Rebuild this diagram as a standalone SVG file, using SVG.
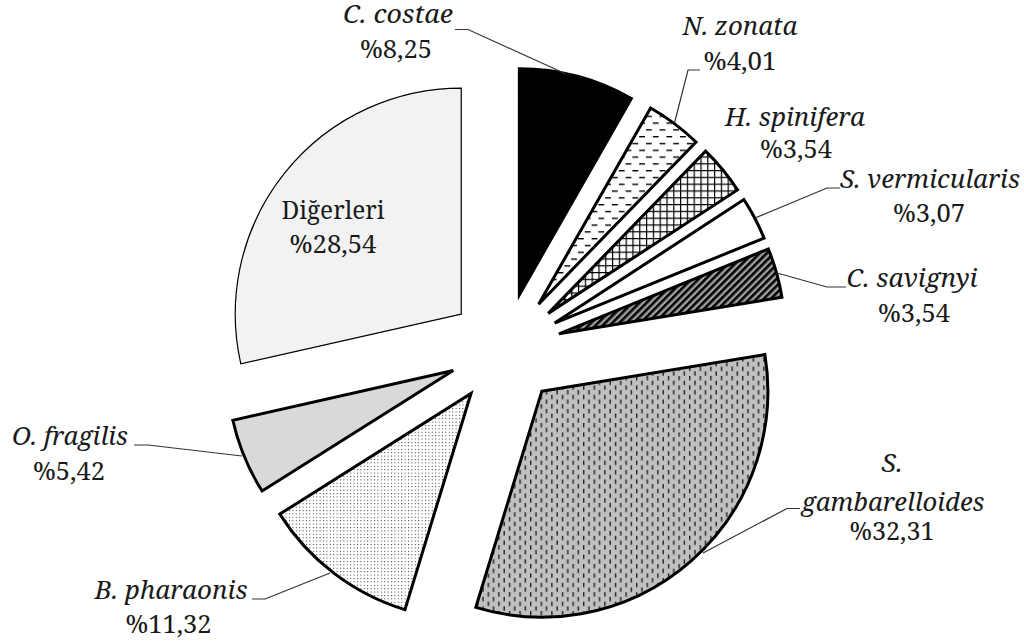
<svg xmlns="http://www.w3.org/2000/svg" width="1024" height="641" viewBox="0 0 1024 641">
<style>
.sl{stroke:#000;stroke-width:3;stroke-linejoin:miter}
.thin{stroke:#000;stroke-width:1.2}
.lbl{font-family:'Noto Serif','DejaVu Serif',serif;font-size:26px;fill:#1a1a1a;text-anchor:middle}
.it{font-style:italic}
.ld{fill:none;stroke:#333;stroke-width:1.2}
</style>
<defs>
<pattern id="pNZ" width="13.6" height="13.6" patternUnits="userSpaceOnUse">
<rect width="13.6" height="13.6" fill="#fff"/>
<rect x="0" y="0" width="5.8" height="1.4" fill="#000"/>
<rect x="6.8" y="6.8" width="5.8" height="1.4" fill="#000"/>
</pattern>
<pattern id="pHS" width="6.8" height="6.8" patternUnits="userSpaceOnUse">
<rect width="6.8" height="6.8" fill="#fff"/>
<rect x="0" y="0" width="6.8" height="1.2" fill="#000"/>
<rect x="0" y="0" width="1.2" height="6.8" fill="#000"/>
</pattern>
<pattern id="pCS" width="5" height="5" patternUnits="userSpaceOnUse" patternTransform="rotate(45)">
<rect width="5" height="5" fill="#a0a0a0"/>
<rect x="0" y="0" width="2.6" height="5" fill="#000"/>
</pattern>
<pattern id="pSG" width="10.6" height="9.4" patternUnits="userSpaceOnUse">
<rect width="10.6" height="9.4" fill="#c0c0c0"/>
<rect x="0" y="0" width="1.4" height="4.4" fill="#222"/>
<rect x="5.3" y="4.7" width="1.4" height="4.4" fill="#222"/>
</pattern>
<pattern id="pBP" width="3.4" height="3.4" patternUnits="userSpaceOnUse">
<rect width="3.4" height="3.4" fill="#fff"/>
<rect x="0" y="0" width="1" height="1" fill="#333"/>
</pattern>
</defs>
<rect width="1024" height="641" fill="#fff"/>

<g id="slice-c-costae"><path class="sl" fill="#000" d="M519.35,294.87 L519.35,68.87 A226,226 0 0 1 631.33,98.57 Z"/></g>
<g id="slice-n-zonata"><path class="sl" fill="url(#pNZ)" d="M538.64,304.23 L650.62,107.93 A226,226 0 0 1 696.0,142.01 Z"/></g>
<g id="slice-h-spinifera"><path class="sl" fill="url(#pHS)" d="M548.21,313.38 L705.57,151.16 A226,226 0 0 1 737.51,189.92 Z"/></g>
<g id="slice-s-vermicularis"><path class="sl" fill="#fff" d="M554.63,323.06 L743.93,199.60 A226,226 0 0 1 764.06,238.15 Z"/></g>
<g id="slice-c-savignyi"><path class="sl" fill="url(#pCS)" d="M558.91,333.85 L768.34,248.94 A226,226 0 0 1 781.93,297.24 Z"/></g>
<g id="slice-s-gambarelloides"><path class="sl" fill="url(#pSG)" d="M541.86,391.16 L764.88,354.55 A226,226 0 0 1 475.82,607.31 Z"/></g>
<g id="slice-b-pharaonis"><path class="sl" fill="url(#pBP)" d="M471.0,393.5 L404.96,609.65 A226,226 0 0 1 279.85,514.09 Z"/></g>
<g id="slice-o-fragilis"><path class="sl" fill="#d9d9d9" d="M453.26,370.43 L262.11,491.02 A226,226 0 0 1 232.82,420.29 Z"/></g>
<g id="slice-digerleri"><path class="thin" fill="#f2f2f2" d="M461.25,314.04 L240.81,363.90 A226,226 0 0 1 461.25,88.04 Z"/></g>

<g id="connectors">
<polyline class="ld" points="455,29.5 468,29.5 566,74"/>
<polyline class="ld" points="700,70 688,70 674.5,123"/>
<polyline class="ld" points="840,188 827,188 755,218"/>
<polyline class="ld" points="846,287 827,287 777,273"/>
<polyline class="ld" points="800,508.5 787,508.5 703,553"/>
<polyline class="ld" points="134,445 148,445 242,456"/>
<polyline class="ld" points="252,599 265,599 330,573"/>
</g>

<g id="labels">
<text class="lbl it" x="398" y="23" textLength="110" lengthAdjust="spacingAndGlyphs">C. costae</text>
<text class="lbl" x="396" y="58" textLength="72" lengthAdjust="spacingAndGlyphs">%8,25</text>
<text class="lbl it" x="740" y="35" textLength="115" lengthAdjust="spacingAndGlyphs">N. zonata</text>
<text class="lbl" x="740" y="70" textLength="73" lengthAdjust="spacingAndGlyphs">%4,01</text>
<text class="lbl it" x="795" y="126" textLength="140" lengthAdjust="spacingAndGlyphs">H. spinifera</text>
<text class="lbl" x="796" y="158" textLength="72" lengthAdjust="spacingAndGlyphs">%3,54</text>
<text class="lbl it" x="930" y="188" textLength="180" lengthAdjust="spacingAndGlyphs">S. vermicularis</text>
<text class="lbl" x="929" y="222" textLength="72" lengthAdjust="spacingAndGlyphs">%3,07</text>
<text class="lbl it" x="912" y="287" textLength="131" lengthAdjust="spacingAndGlyphs">C. savignyi</text>
<text class="lbl" x="914" y="322" textLength="72" lengthAdjust="spacingAndGlyphs">%3,54</text>
<text class="lbl it" x="892" y="472" textLength="21" lengthAdjust="spacingAndGlyphs">S.</text>
<text class="lbl it" x="893" y="511" textLength="183" lengthAdjust="spacingAndGlyphs">gambarelloides</text>
<text class="lbl" x="892" y="540" textLength="85" lengthAdjust="spacingAndGlyphs">%32,31</text>
<text class="lbl it" x="70" y="445" textLength="116" lengthAdjust="spacingAndGlyphs">O. fragilis</text>
<text class="lbl" x="69" y="480" textLength="72" lengthAdjust="spacingAndGlyphs">%5,42</text>
<text class="lbl it" x="171" y="599" textLength="153" lengthAdjust="spacingAndGlyphs">B. pharaonis</text>
<text class="lbl" x="168.5" y="633" textLength="86" lengthAdjust="spacingAndGlyphs">%11,32</text>
<text class="lbl" x="333" y="219" textLength="103" lengthAdjust="spacingAndGlyphs">Diğerleri</text>
<text class="lbl" x="333" y="253" textLength="87" lengthAdjust="spacingAndGlyphs">%28,54</text>
</g>
</svg>
